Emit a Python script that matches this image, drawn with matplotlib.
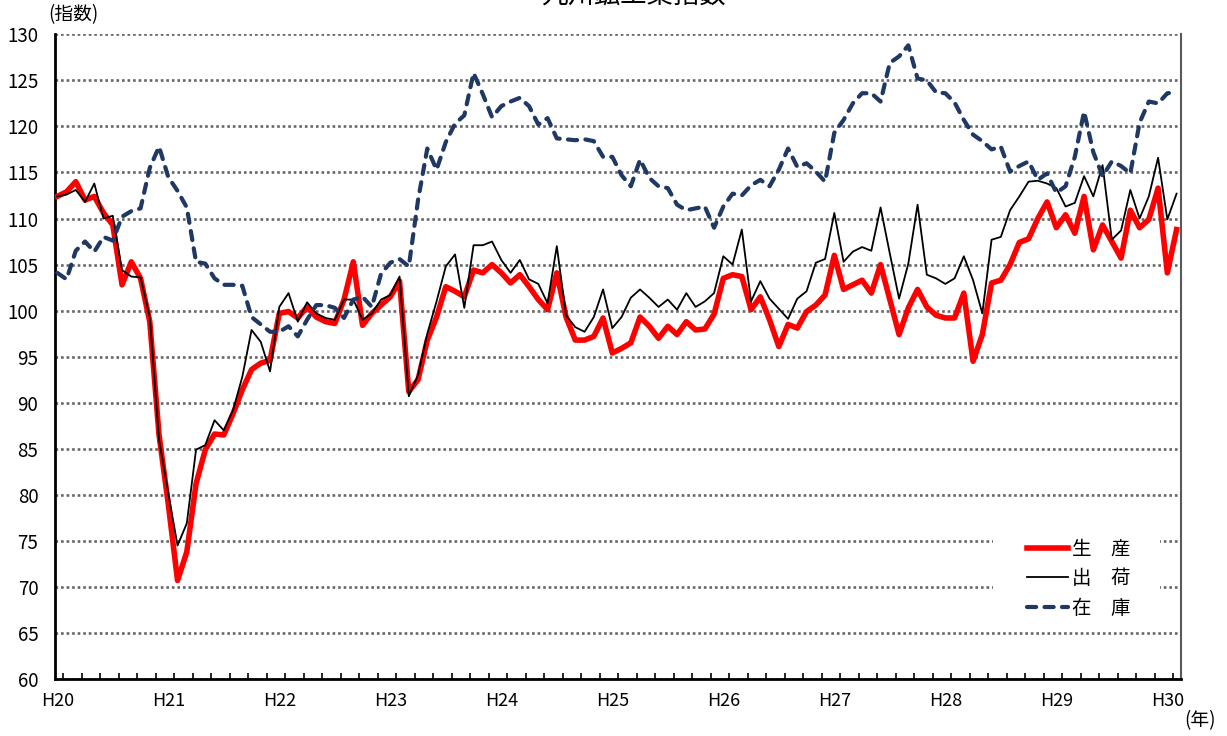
import matplotlib
matplotlib.use("Agg")
import matplotlib.pyplot as plt
from matplotlib.patches import Rectangle
import numpy as np

plt.rcParams['font.family'] = ['Noto Sans CJK JP', 'DejaVu Sans']

# 月次データ（H20年1月～H30年2月）
seisan = [112.4, 112.9, 114.0, 112.0, 112.4, 110.6, 109.3, 102.8, 105.3, 103.5, 98.8, 86.5,
          79.0, 70.7, 73.8, 81.2, 84.9, 86.6, 86.5, 88.8, 91.4, 93.6, 94.3, 94.6,
          99.7, 99.9, 99.2, 100.4, 99.3, 98.8, 98.6, 101.2, 105.3, 98.4, 99.7, 100.6,
          101.5, 103.2, 91.2, 92.5, 96.8, 99.3, 102.6, 102.1, 101.5, 104.4, 104.1, 105.0,
          104.1, 103.0, 103.9, 102.6, 101.2, 100.1, 104.1, 99.3, 96.8, 96.8, 97.2, 99.2,
          95.4, 95.9, 96.5, 99.3, 98.3, 97.0, 98.3, 97.4, 98.8, 97.9, 98.0, 99.6,
          103.5, 103.9, 103.7, 100.1, 101.5, 99.0, 96.1, 98.5, 98.1, 99.9, 100.6, 101.7,
          106.0, 102.3, 102.8, 103.3, 101.9, 105.0, 101.2, 97.4, 100.3, 102.3, 100.4, 99.5,
          99.2, 99.2, 101.9, 94.5, 97.4, 103.0, 103.3, 105.0, 107.4, 107.8, 110.0, 111.8,
          109.0, 110.4, 108.4, 112.4, 106.6, 109.3, 107.5, 105.7, 110.9, 109.0, 109.9, 113.3,
          104.1, 108.8]
shukka = [112.4, 112.6, 113.1, 111.8, 113.8, 110.0, 110.3, 104.4, 103.7, 103.6, 99.3, 86.0,
          80.2, 74.5, 76.9, 84.9, 85.4, 88.1, 87.0, 89.2, 92.8, 97.9, 96.6, 93.4,
          100.4, 101.9, 98.8, 100.9, 99.7, 99.2, 99.0, 101.2, 101.2, 99.0, 99.7, 101.2,
          101.7, 103.7, 90.7, 93.0, 97.5, 101.0, 104.8, 106.1, 100.3, 107.1, 107.1, 107.5,
          105.5, 104.1, 105.5, 103.4, 102.9, 100.8, 107.0, 99.5, 98.2, 97.7, 99.3, 102.3,
          98.1, 99.3, 101.4, 102.3, 101.4, 100.4, 101.2, 100.1, 101.9, 100.4, 101.0, 101.9,
          105.9, 105.0, 108.8, 101.0, 103.2, 101.3, 100.2, 99.1, 101.3, 102.1, 105.2, 105.6,
          110.6, 105.3, 106.4, 106.9, 106.5, 111.2, 106.2, 101.3, 105.1, 111.5, 103.9, 103.5,
          102.9, 103.5, 105.9, 103.3, 99.7, 107.7, 108.0, 110.9, 112.4, 114.0, 114.1, 113.8,
          113.3, 111.3, 111.7, 114.6, 112.4, 115.8, 107.7, 108.7, 113.1, 110.0, 112.4, 116.6,
          109.9, 112.7]
zaiko = [104.1, 103.4, 106.5, 107.5, 106.4, 108.0, 107.6, 110.2, 110.8, 111.1, 115.5, 117.8,
         114.5, 113.0, 111.2, 105.3, 105.1, 103.5, 102.8, 102.8, 102.7, 99.3, 98.5, 97.7,
         97.7, 98.3, 97.2, 99.0, 100.6, 100.6, 100.3, 99.2, 101.2, 101.5, 100.4, 104.0,
         105.2, 105.6, 104.8, 112.0, 117.6, 115.3, 118.3, 120.3, 121.2, 125.8, 123.5, 121.0,
         122.2, 122.7, 123.1, 122.2, 120.2, 120.9, 118.7, 118.6, 118.5, 118.6, 118.4, 116.7,
         116.7, 114.7, 113.5, 116.4, 114.4, 113.5, 113.3, 111.5, 110.9, 111.1, 111.3, 109.0,
         111.3, 112.7, 112.5, 113.6, 114.2, 113.5, 115.3, 117.6, 115.6, 116.0, 115.1, 114.0,
         119.3, 120.7, 122.5, 123.6, 123.6, 122.7, 126.9, 127.6, 128.8, 125.2, 125.0, 123.7,
         123.6, 122.6, 120.7, 119.1, 118.4, 117.5, 117.8, 115.1, 115.7, 116.2, 114.2, 114.9,
         112.8, 113.5, 116.7, 121.6, 117.2, 114.6, 116.2, 115.7, 114.9, 120.4, 122.7, 122.5,
         123.6, 123.7]
nen_labels = ["H20", "H21", "H22", "H23", "H24", "H25", "H26", "H27", "H28", "H29", "H30"]

x = np.arange(len(seisan))

fig = plt.figure(figsize=(12.27, 7.36), dpi=100)
ax = fig.add_axes([0.0448, 0.0774, 0.9175, 0.876])

ax.plot(x, seisan, color="#ff0000", lw=4.0, solid_joinstyle="round", label="生　産", zorder=3)
ax.plot(x, shukka, color="black", lw=1.3, label="出　荷", zorder=4)
ax.plot(x, zaiko, color="#1f3864", lw=3.0, linestyle=(0, (2.2, 2.0)),
        dash_capstyle="round", label="在　庫", zorder=5)

ax.set_xlim(-0.25, 121.45)
ax.set_ylim(60, 130)

# 目盛
ax.set_yticks(np.arange(60, 131, 5))
ax.set_yticklabels([str(v) for v in range(60, 131, 5)], fontsize=13.5)
ax.tick_params(axis="y", length=0, pad=12)
ax.set_xticks(np.arange(0, 121, 12))
ax.set_xticklabels(nen_labels, fontsize=13)
ax.set_xticks(np.arange(0.65, 121, 2), minor=True)
ax.tick_params(axis="x", which="major", length=0, pad=9)
ax.tick_params(axis="x", which="minor", direction="in", length=4, width=1.2, color="black")

ax.yaxis.grid(True, color="#666666", linestyle=(0, (1, 1.1)), lw=1.9, zorder=1)
ax.set_axisbelow(True)

ax.spines["top"].set_visible(False)
ax.spines["left"].set_linewidth(2)
ax.spines["bottom"].set_linewidth(2)
ax.spines["right"].set_color("#595959")
ax.spines["right"].set_linewidth(1.5)

# 凡例
ax.add_patch(Rectangle((0.833, 0.084), 0.149, 0.14, transform=ax.transAxes,
                       facecolor="white", edgecolor="none", zorder=2))
leg = ax.legend(loc="upper left", bbox_to_anchor=(0.8635, 0.218), frameon=False,
                fontsize=14, handlelength=2.1, handletextpad=0.2, labelspacing=0.45,
                borderpad=0, borderaxespad=0)
leg.set_zorder(6)

fig.text(73 / 1227, 1 - 15 / 736, "(指数)", fontsize=13.5, ha="center", va="center")
fig.text(1200 / 1227, 1 - 721 / 736, "(年)", fontsize=13.5, ha="center", va="center")
# タイトルは上端で切れている
fig.text(0.516, 1 - 3.2 / 736, "九州鉱工業指数", fontsize=19, ha="center", va="baseline")

fig.savefig("out.png", dpi=100)
